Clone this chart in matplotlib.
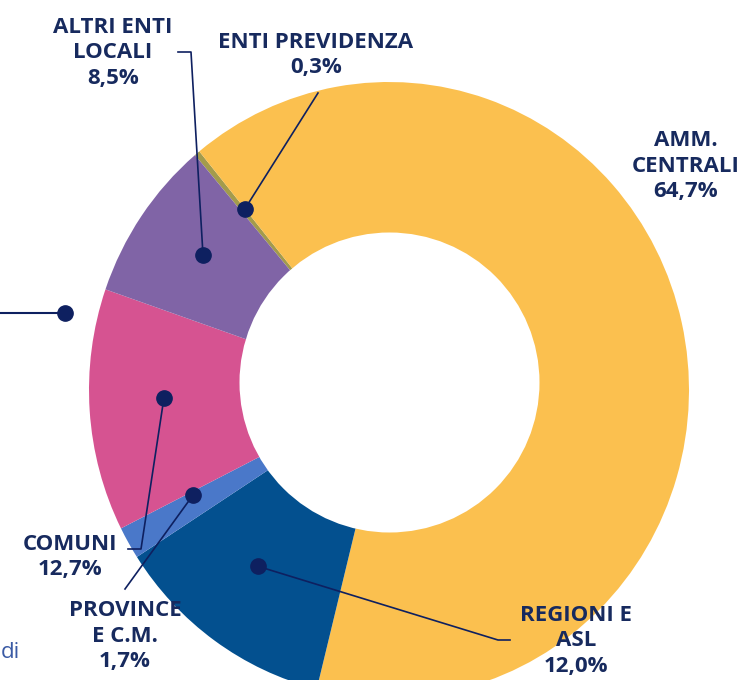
import matplotlib
matplotlib.use("Agg")
import matplotlib.pyplot as plt
from matplotlib.patches import Ellipse
import numpy as np

# slices, clockwise from the thin one at upper left
categories = ["ENTI PREVIDENZA", "AMM.\nCENTRALI", "REGIONI E\nASL",
              "PROVINCE\nE C.M.", "COMUNI", "ALTRI ENTI\nLOCALI"]
shares = [0.3, 64.7, 12.0, 1.7, 12.7, 8.5]
share_labels = ["0,3%", "64,7%", "12,0%", "1,7%", "12,7%", "8,5%"]
colors = ["#A39B4C", "#FBC04F", "#03508F", "#4A78C9", "#D65391", "#8064A6"]

W, H = 743, 680
navy = "#172A5E"
dotc = "#0E2060"
sy = 308 / 300  # ring in the source is a touch taller than wide

def Y(y):
    # picture rows -> data coords (y up, slightly squeezed)
    return (H - y) / sy

fig = plt.figure(figsize=(W / 100, H / 100), dpi=100)
ax = fig.add_axes([0, 0, 1, 1])

cx, cy, R, r_in = 389, Y(390), 300, 150
hx, hy = 389.5, Y(382.5)
wedges, _ = ax.pie(shares, colors=colors, startangle=130.3, counterclock=False,
                   radius=R, center=(cx, cy), wedgeprops=dict(linewidth=0))
# round hole
ax.add_patch(Ellipse((hx, hy), 2 * r_in, 2 * r_in / sy,
                     facecolor="white", edgecolor="none", zorder=2))
ax.set_xlim(0, W)
ax.set_ylim(0, H / sy)
ax.set_aspect("auto")
ax.axis("off")

# leader paths from each dot (mid-ring, mid-angle) to its label
paths = {
    0: [(318, 93)],
    2: [(498, 640), (510, 640)],
    3: [(125, 589)],
    4: [(141, 549), (128, 549)],
    5: [(191, 52), (178, 52)],
}
rmid = 226
for i, pts in paths.items():
    w = wedges[i]
    a = np.deg2rad((w.theta1 + w.theta2) / 2)
    dx, dy = hx + rmid * np.cos(a), hy + rmid * np.sin(a) / sy
    xs = [dx] + [p[0] for p in pts]
    ys = [dy] + [Y(p[1]) for p in pts]
    ax.plot(xs, ys, color=dotc, lw=1.2, zorder=3)
    ax.plot(dx, dy, "o", color=dotc, ms=11, zorder=4)

# text labels: (x, centre y)
label_pos = {0: (316, 55), 1: (686, 166), 2: (576, 641),
             3: (125, 636), 4: (70, 557), 5: (113, 53)}
font = dict(family="Open Sans", weight="bold", color=navy, fontsize=16,
            ha="center", va="center", linespacing=1.3, zorder=5)
for i, (x, y) in label_pos.items():
    ax.text(x, Y(y), categories[i] + "\n" + share_labels[i], **font)

# fragment of the neighbouring chart on the left edge
ax.plot([0, 65], [Y(313), Y(313)], color=dotc, lw=1.5)
ax.plot(65, Y(313), "o", color=dotc, ms=11)
ax.text(1, Y(652), "di", color="#3B5BA5", fontsize=16, family="Open Sans",
        ha="left", va="center")

fig.savefig("out.png", dpi=100)
